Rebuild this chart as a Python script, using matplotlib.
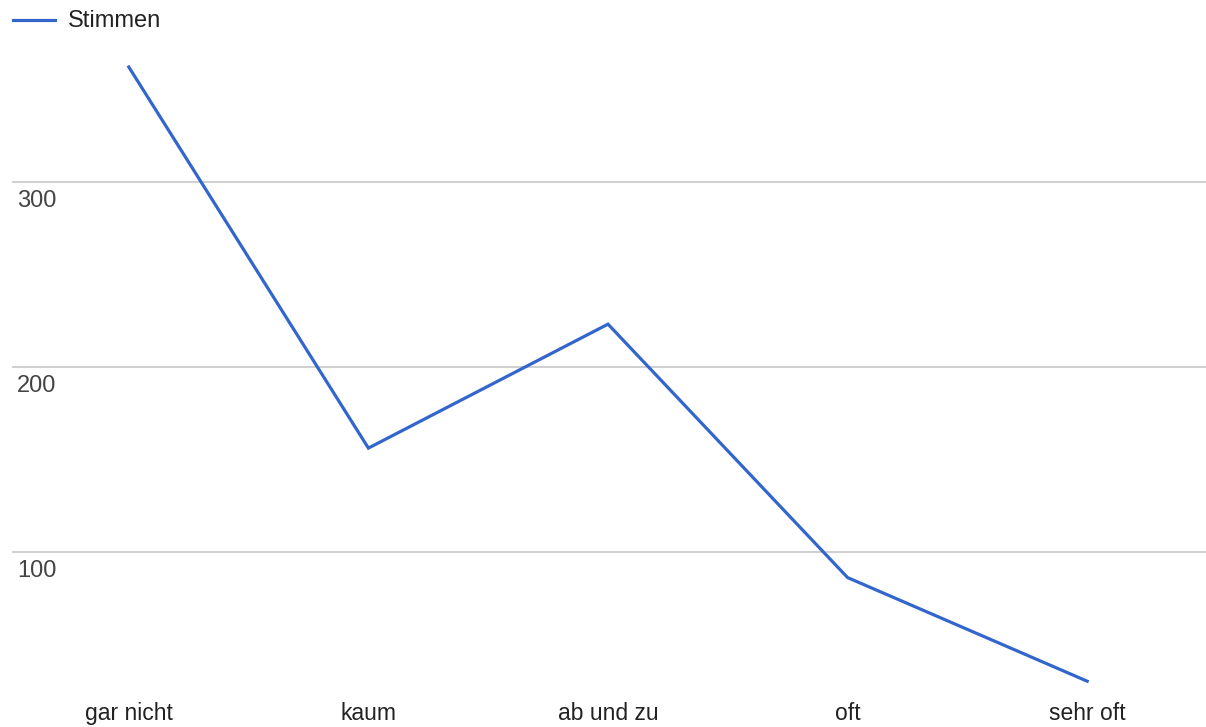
import matplotlib
matplotlib.use("Agg")
import matplotlib.pyplot as plt
from matplotlib.lines import Line2D
import matplotlib.transforms as mtransforms

plt.rcParams['font.family'] = ['Liberation Sans', 'DejaVu Sans']

categories = ["gar nicht", "kaum", "ab und zu", "oft", "sehr oft"]
stimmen = [362, 156, 223, 86, 30]
y_ticks = [100, 200, 300]
series_name = "Stimmen"

W, H = 1206, 727
fig = plt.figure(figsize=(W / 100, H / 100), dpi=100)
left, right, top, bottom = 9, 1207, 40, 695
ax = fig.add_axes([left / W, 1 - bottom / H, (right - left) / W, (bottom - top) / H])

color = "#3366cc"
ax.plot(range(len(categories)), stimmen, color=color, lw=2.3, solid_joinstyle="miter", zorder=3)

ax.set_xlim(-0.5, len(categories) - 0.5)
px_per_unit = 1.85
ymin = 362 - (bottom - 67) / px_per_unit
ymax = 362 + (67 - top) / px_per_unit
ax.set_ylim(ymin, ymax)

ax.set_yticks(y_ticks)
ax.set_yticklabels([])
ax.tick_params(axis="y", length=0)
for v in y_ticks:
    ax.axhline(v, xmin=(13 - left) / (right - left), xmax=1, color="#cccccc", lw=1.3, zorder=1)
for s in ax.spines.values():
    s.set_visible(False)

ax.set_xticks(range(len(categories)))
ax.set_xticklabels(categories, fontsize=16.5, color="#222222")
ax.tick_params(axis="x", length=0, pad=5)

trans = mtransforms.blended_transform_factory(fig.transFigure, ax.transData)
offset = mtransforms.ScaledTranslation(0, -8 / 100, fig.dpi_scale_trans)
for v in y_ticks:
    ax.text(17 / W, v, str(v), transform=trans + offset, va="top", ha="left",
            fontsize=17, color="#444444")

fig.add_artist(Line2D([13 / W, 55 / W], [1 - 20 / H, 1 - 20 / H], color=color, lw=2.3))
fig.text(68 / W, 1 - 21 / H, series_name, va="center", ha="left", fontsize=17, color="#222222")

fig.savefig("out.png", dpi=100)
